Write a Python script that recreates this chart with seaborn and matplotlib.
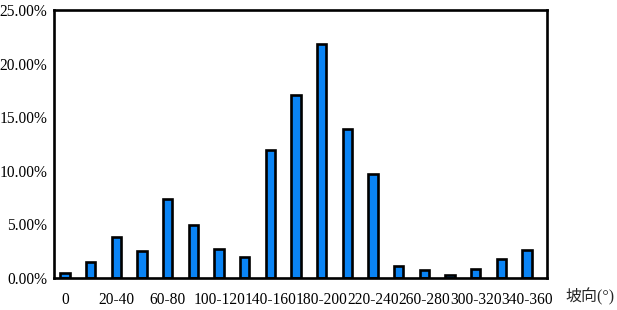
import matplotlib
matplotlib.use("Agg")
import matplotlib.pyplot as plt
import seaborn as sns
import pandas as pd

categories = ["0", "0-20", "20-40", "40-60", "60-80", "80-100", "100-120", "120-140",
              "140-160", "160-180", "180-200", "200-220", "220-240", "240-260",
              "260-280", "280-300", "300-320", "320-340", "340-360"]
values = [0.5, 1.5, 3.8, 2.5, 7.4, 4.9, 2.7, 2.0, 11.9, 17.1, 21.8, 13.9, 9.7,
          1.1, 0.7, 0.3, 0.8, 1.8, 2.6]
y_ticks = [0, 5, 10, 15, 20, 25]
y_tick_labels = ["0.00%", "5.00%", "10.00%", "15.00%", "20.00%", "25.00%"]
x_label = "坡向(°)"

sns.set_style("white")
plt.rcParams["font.family"] = ["Liberation Serif", "Noto Sans CJK SC"]

df = pd.DataFrame({"cat": categories, "val": values})

fig = plt.figure(figsize=(6.17, 3.10), dpi=100)
ax = fig.add_axes([54/617, 32/310, (547-54)/617, (278-10)/310])

sns.barplot(data=df, x="cat", y="val", order=categories, color="#0A84F5",
            width=0.37, edgecolor="black", linewidth=1.9, saturation=1, ax=ax)
for p in ax.patches:
    p.set_facecolor("#0A84F5")

ax.set_xlim(-0.43, 18.78)
ax.set_ylim(0, 25)
ax.set_yticks(y_ticks)
ax.set_yticklabels(y_tick_labels)
shown = list(range(0, len(categories), 2))
ax.set_xticks(shown)
ax.set_xticklabels([categories[i] for i in shown])
ax.set_xlabel("")
ax.set_ylabel("")
ax.tick_params(axis="both", length=0, labelsize=11.2, colors="black")
ax.tick_params(axis="x", pad=10)
ax.tick_params(axis="y", pad=5)
for s in ax.spines.values():
    s.set_visible(True)
    s.set_color("black")
    s.set_linewidth(1.9)

fig.text(590/617, 1-297/310, x_label, ha="center", va="center", fontsize=11.5,
         family=["Liberation Serif", "Noto Sans CJK SC"])

fig.savefig("out.png", dpi=100)
